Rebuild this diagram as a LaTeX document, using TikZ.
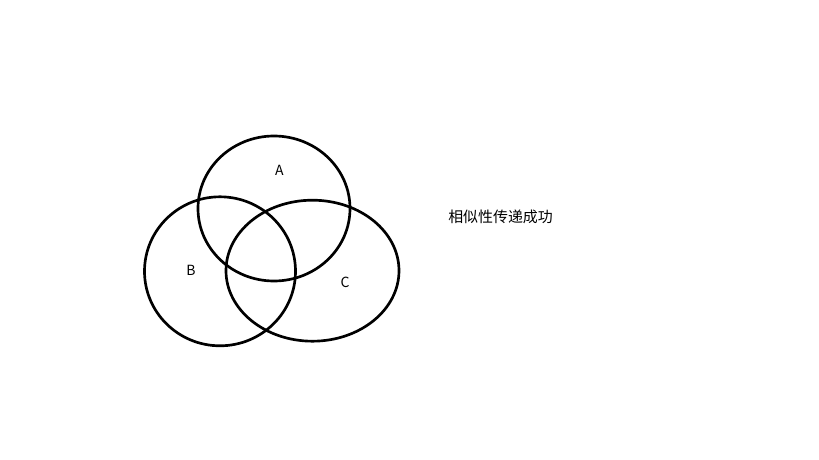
\documentclass[tikz,border=0pt]{standalone}
\usepackage{fontspec}
\setmainfont{Noto Sans CJK SC}
\newfontfamily\cjk{Noto Sans CJK SC}
\usetikzlibrary{calc}

\begin{document}
\begin{tikzpicture}[
        x=0.75pt, y=-0.75pt,
        set/.style={line width=2pt, draw=black},
        setlabel/.style={font=\cjk\fontsize{10.5}{12}\selectfont, inner sep=0pt},
        note/.style={font=\cjk\fontsize{11.2}{13}\selectfont, inner sep=0pt}
      ]

      \useasboundingbox (0,0) rectangle (819,460);

      % the three sets
      \coordinate (cA) at (274,208.5);
      \coordinate (cB) at (220,271.3);
      \coordinate (cC) at (312.5,270.7);

      \draw[set] (cA) ellipse [x radius=76, y radius=72.5];
      \draw[set] (cB) ellipse [x radius=75.5, y radius=74.5];
      \draw[set] (cC) ellipse [x radius=86.5, y radius=70.5];

      \node[setlabel] (labA) at (279.3,170) {A};
      \node[setlabel] (labB) at (191,270) {B};
      \node[setlabel] (labC) at (345,282.3) {C};

      % result
      \node[note, anchor=west] (result) at (448,216.5) {相似性传递成功};

    \end{tikzpicture}
\end{document}
